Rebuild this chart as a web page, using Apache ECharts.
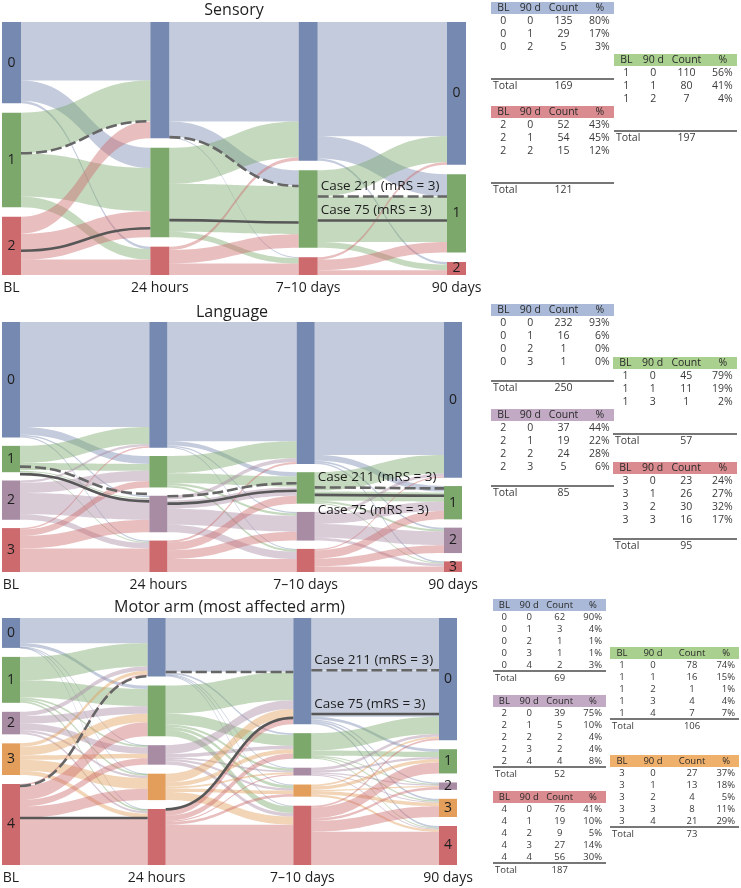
<!DOCTYPE html>
<html><head><meta charset="utf-8">
<script src="https://cdn.jsdelivr.net/npm/echarts@6/dist/echarts.min.js"></script>
<style>html,body{margin:0;padding:0;background:#fff}#c{width:741px;height:888px}</style>
</head><body><div id="c"></div>
<script>
// ---------------- DATA ----------------
const stageNames = ['BL', '24 hours', '7–10 days', '90 days'];
const caseLabels = { '211': 'Case 211 (mRS = 3)', '75': 'Case 75 (mRS = 3)' };

// Flow entries: [from level, to level, patients]; a string instead of patients marks the single patient of that case.
// Sensory
const sensoryLevels = ['0', '1', '2'];
const sensoryBLto24h = [[0,0,122],[0,1,42],[0,2,5],[1,0,84],[1,0,'211'],[1,1,90],[1,2,22],[2,0,35],[2,1,35],[2,1,'75'],[2,1,18],[2,2,32]];
const sensory24hTo7d = [[0,0,207],[0,1,32],[0,1,'211'],[0,2,2],[1,0,75],[1,1,75],[1,1,'75'],[1,1,24],[1,2,11],[2,0,7],[2,1,28],[2,2,24]];
const sensory7dTo90d = [[0,0,238],[0,1,46],[0,2,5],[1,0,54],[1,1,'211'],[1,1,49],[1,1,'75'],[1,1,44],[1,2,12],[2,0,5],[2,1,22],[2,2,10]];
const sensoryTableTo90 = [[0,1,2],[0,1,2],[0,1,2]];
const sensoryTableCount = [[135,29,5],[110,80,7],[52,54,15]];
const sensoryTablePct = [['80%','17%','3%'],['56%','41%','4%'],['43%','45%','12%']];
const sensoryTableTotal = [169,197,121];

// Language
const languageLevels = ['0', '1', '2', '3'];
const languageBLto24h = [[0,0,227],[0,1,17],[0,2,3],[0,3,3],[1,0,37],[1,1,15],[1,2,'211'],[1,2,'75'],[1,2,1],[1,3,2],[2,0,5],[2,1,22],[2,2,46],[2,3,12],[3,0,3],[3,1,14],[3,2,27],[3,3,51]];
const language24hTo7d = [[0,0,258],[0,1,9],[0,2,3],[0,3,2],[1,0,37],[1,1,22],[1,2,5],[1,3,4],[2,0,8],[2,1,'211'],[2,1,'75'],[2,1,18],[2,2,35],[2,3,16],[3,0,4],[3,1,17],[3,2,19],[3,3,28]];
const language7dTo90d = [[0,0,288],[0,1,12],[0,2,4],[0,3,3],[1,0,40],[1,1,'211'],[1,1,'75'],[1,1,20],[1,2,4],[1,3,2],[2,0,6],[2,1,20],[2,2,30],[2,3,6],[3,0,3],[3,1,18],[3,2,17],[3,3,12]];
const languageTableTo90 = [[0,1,2,3],[0,1,3],[0,1,2,3],[0,1,2,3]];
const languageTableCount = [[232,16,1,1],[45,11,1],[37,19,24,5],[23,26,30,16]];
const languageTablePct = [['93%','6%','0%','0%'],['79%','19%','2%'],['44%','22%','28%','6%'],['24%','27%','32%','17%']];
const languageTableTotal = [250,57,85,95];

// Motor arm
const motorLevels = ['0', '1', '2', '3', '4'];
const motorBLto24h = [[0,0,58],[0,1,8],[0,2,1],[0,3,1],[0,4,1],[1,0,54],[1,1,40],[1,2,4],[1,3,4],[1,4,4],[2,0,10],[2,1,17],[2,2,15],[2,3,5],[2,4,5],[3,0,8],[3,1,20],[3,2,10],[3,3,25],[3,4,10],[4,0,4],[4,0,'211'],[4,1,32],[4,2,15],[4,3,26],[4,4,'75'],[4,4,108]];
const motor24hTo7d = [[0,0,124],[0,0,'211'],[0,1,4],[0,2,2],[0,3,2],[0,4,2],[1,0,65],[1,1,25],[1,2,5],[1,3,7],[1,4,15],[2,0,20],[2,1,8],[2,2,4],[2,3,5],[2,4,8],[3,0,20],[3,1,10],[3,2,4],[3,3,8],[3,4,19],[4,0,'75'],[4,0,14],[4,1,12],[4,2,3],[4,3,6],[4,4,93]];
const motor7dTo90d = [[0,0,120],[0,0,'211'],[0,0,100],[0,0,'75'],[0,0,6],[0,1,6],[0,2,3],[0,3,4],[0,4,4],[1,0,40],[1,1,12],[1,2,2],[1,3,3],[1,4,2],[2,0,6],[2,1,5],[2,2,3],[2,3,2],[2,4,2],[3,0,4],[3,1,8],[3,2,3],[3,3,8],[3,4,5],[4,0,4],[4,1,25],[4,2,6],[4,3,25],[4,4,77]];
const motorTableTo90 = [[0,1,2,3,4],[0,1,2,3,4],[0,1,2,3,4],[0,1,2,3,4],[0,1,2,3,4]];
const motorTableCount = [[62,3,1,1,2],[78,16,1,4,7],[39,5,2,2,4],[27,13,4,8,21],[76,19,9,27,56]];
const motorTablePct = [['90%','4%','1%','1%','3%'],['74%','15%','1%','4%','7%'],['75%','10%','4%','4%','8%'],['37%','18%','5%','11%','29%'],['41%','10%','5%','14%','30%']];
const motorTableTotal = [69,106,52,73,187];

// ---------------- STYLE / LAYOUT ----------------
const FONT = '"Open Sans", "DejaVu Sans", sans-serif';
const nodeBlue = '#7689b0', nodeGreen = '#7ca86c', nodeRed = '#cd6a6e', nodePurple = '#a88ca4', nodeOrange = '#e29e5a';
const hdBlue = '#a9b9d7', hdGreen = '#a9d08e', hdRed = '#d98b8f', hdPurple = '#c2aac4', hdOrange = '#efb06c';
const colsStd = [0.1, 0.32, 0.59, 0.885, 0.965];
const colsWide = [0.093, 0.333, 0.636, 0.9, 0.97];

const panels = [
  { key: 's', title: 'Sensory', levels: sensoryLevels, flows: [sensoryBLto24h, sensory24hTo7d, sensory7dTo90d],
    colors: [nodeBlue, nodeGreen, nodeRed], left: 2, top: 22, width: 464, height: 253, nodeWidth: 19, nodeGap: 9.5,
    titleY: 10, spread: 0, labelSide: { '211': 'above', '75': 'above' },
    table: { to90: sensoryTableTo90, count: sensoryTableCount, pct: sensoryTablePct, total: sensoryTableTotal,
      pos: [[491,2,123,colsStd],[614,54,123,colsStd],[491,106,123,colsStd]], head: [hdBlue, hdGreen, hdRed], pitch: 13, fs: 10.5 } },
  { key: 'l', title: 'Language', levels: languageLevels, flows: [languageBLto24h, language24hTo7d, language7dTo90d],
    colors: [nodeBlue, nodeGreen, nodePurple, nodeRed], left: 2, top: 322, width: 460, height: 250, nodeWidth: 18, nodeGap: 8.3,
    titleY: 312, spread: 3.5, labelSide: { '211': 'above', '75': 'below' },
    table: { to90: languageTableTo90, count: languageTableCount, pct: languageTablePct, total: languageTableTotal,
      pos: [[491,304,123,colsStd],[613,357,124,colsStd],[491,409,123,colsStd],[613,462,124,colsStd]], head: [hdBlue, hdGreen, hdPurple, hdRed], pitch: 13, fs: 10.5 } },
  { key: 'm', title: 'Motor arm (most affected arm)', levels: motorLevels, flows: [motorBLto24h, motor24hTo7d, motor7dTo90d],
    colors: [nodeBlue, nodeGreen, nodePurple, nodeOrange, nodeRed], left: 2, top: 618, width: 455, height: 247, nodeWidth: 18, nodeGap: 9,
    titleY: 607, spread: 0, labelSide: { '211': 'above', '75': 'above' },
    table: { to90: motorTableTo90, count: motorTableCount, pct: motorTablePct, total: motorTableTotal,
      pos: [[493,599,113,colsStd],[610,647,129,colsWide],[493,695,113,colsStd],[610,755,129,colsWide],[493,791,113,colsStd]], head: [hdBlue, hdGreen, hdPurple, hdOrange, hdRed], pitch: 12, fs: 9.5 } }
];

function buildSeries(p) {
  const nodes = [];
  for (let s = 0; s < stageNames.length; s++) {
    p.levels.forEach((lv, i) => nodes.push({
      name: p.key + '|' + s + '|' + i, depth: s,
      itemStyle: { color: p.colors[i], borderWidth: 0 },
      label: { show: s === 0 || s === stageNames.length - 1 }
    }));
  }
  const links = [];
  p.flows.forEach((stageFlows, s) => stageFlows.forEach(f => {
    const isCase = typeof f[2] === 'string';
    const link = { source: p.key + '|' + s + '|' + f[0], target: p.key + '|' + (s + 1) + '|' + f[1], value: isCase ? 1 : f[2] };
    if (isCase) { link.caseId = f[2]; link.stage = s; link.lineStyle = { opacity: 0 }; }
    links.push(link);
  }));
  return {
    type: 'sankey', left: p.left, top: p.top, width: p.width, height: p.height,
    nodeWidth: p.nodeWidth, nodeGap: p.nodeGap, layoutIterations: 0, draggable: false, silent: true,
    emphasis: { disabled: true },
    label: { position: 'inside', color: '#1e1e1e', fontSize: 14, fontFamily: FONT,
      formatter: prm => p.levels[+prm.name.split('|')[2]] },
    itemStyle: { borderWidth: 0 },
    lineStyle: { color: 'source', opacity: 0.44, curveness: 0.5 },
    data: nodes, links: links
  };
}

const chart = echarts.init(document.getElementById('c'), null, { renderer: 'canvas' });
chart.setOption({ animation: false, series: panels.map(buildSeries) });

function txt(t, x, y, size, color, align, vAlign) {
  return { type: 'text', silent: true, z: 50,
    style: { text: String(t), x: x, y: y, fill: color, font: size + 'px ' + FONT, align: align || 'center', verticalAlign: vAlign || 'middle' } };
}

const els = [];
panels.forEach((p, si) => {
  els.push(txt(p.title, p.left + p.width / 2, p.titleY, 16, '#1e1e1e', 'center'));
  let series = null, graph = null, info = { x: p.left, y: p.top };
  try {
    series = chart.getModel().getSeriesByIndex(si);
    graph = series.getGraph();
    if (series.layoutInfo) info = series.layoutInfo;
  } catch (e) { graph = null; }
  // stage labels under each column
  if (graph) {
    for (let s = 0; s < stageNames.length; s++) {
      const node = graph.nodes.find(n => n.id !== undefined && String(n.id).split('|')[1] == s) ||
                   graph.nodes[s * p.levels.length];
      const L = node.getLayout();
      els.push(txt(stageNames[s], info.x + L.x + L.dx / 2, p.top + p.height + 13, 14, '#1e1e1e', 'center'));
    }
    // case lines
    graph.edges.forEach(edge => {
      const m = edge.getModel();
      const cid = m.get('caseId');
      if (!cid) return;
      const stage = m.get('stage');
      const el = edge.getLayout();
      const a = edge.node1.getLayout(), b = edge.node2.getLayout();
      const off = (cid === '211' ? -1 : 1) * p.spread;
      const x1 = info.x + a.x + a.dx, y1 = info.y + a.y + el.sy + el.dy / 2 + off;
      const x2 = info.x + b.x, y2 = info.y + b.y + el.ty + el.dy / 2 + off;
      const cx = (x1 + x2) / 2;
      els.push({ type: 'bezierCurve', silent: true, z: 40,
        shape: { x1: x1, y1: y1, x2: x2, y2: y2, cpx1: cx, cpy1: y1, cpx2: cx, cpy2: y2 },
        style: { stroke: cid === '211' ? '#666666' : '#575757', lineWidth: 2.6, fill: null,
          lineDash: cid === '211' ? [11, 4] : null, lineCap: 'butt' } });
      if (stage === stageNames.length - 2) {
        const below = p.labelSide[cid] === 'below';
        els.push(txt(caseLabels[cid], x1 + 3, below ? y1 + 8 : y1 - 3, 13.5, '#1e1e1e', 'left', below ? 'top' : 'bottom'));
      }
    });
  }
  // tables
  const T = p.table;
  T.pos.forEach((pos, ti) => {
    const [x, y, w, cols] = pos;
    const hh = 12;
    els.push({ type: 'rect', silent: true, shape: { x: x, y: y, width: w, height: hh }, style: { fill: T.head[ti] } });
    const hy = y + hh / 2 + 0.5;
    els.push(txt('BL', x + w * cols[0], hy, T.fs, '#2a2a2a', 'center'));
    els.push(txt('90 d', x + w * cols[1], hy, T.fs, '#2a2a2a', 'center'));
    els.push(txt('Count', x + w * cols[2], hy, T.fs, '#2a2a2a', 'center'));
    els.push(txt('%', x + w * cols[3], hy, T.fs, '#2a2a2a', 'center'));
    T.count[ti].forEach((c, r) => {
      const ry = y + hh + T.pitch * (r + 0.5) + 0.5;
      els.push(txt(p.levels[ti], x + w * cols[0], ry, T.fs, '#3a3a3a', 'center'));
      els.push(txt(T.to90[ti][r], x + w * cols[1], ry, T.fs, '#3a3a3a', 'center'));
      els.push(txt(c, x + w * cols[2], ry, T.fs, '#3a3a3a', 'center'));
      els.push(txt(T.pct[ti][r], x + w * cols[4], ry, T.fs, '#3a3a3a', 'right'));
    });
    const ly = y + hh + T.pitch * 5;
    els.push({ type: 'line', silent: true, shape: { x1: x, y1: ly, x2: x + w, y2: ly }, style: { stroke: '#4a4a4a', lineWidth: 1.3 } });
    const ty = ly + T.pitch / 2 + 1;
    els.push(txt('Total', x + 2, ty, T.fs, '#3a3a3a', 'left'));
    els.push(txt(T.total[ti], x + w * cols[2], ty, T.fs, '#3a3a3a', 'center'));
  });
});
chart.setOption({ graphic: { elements: els } });
</script>
</body></html>
